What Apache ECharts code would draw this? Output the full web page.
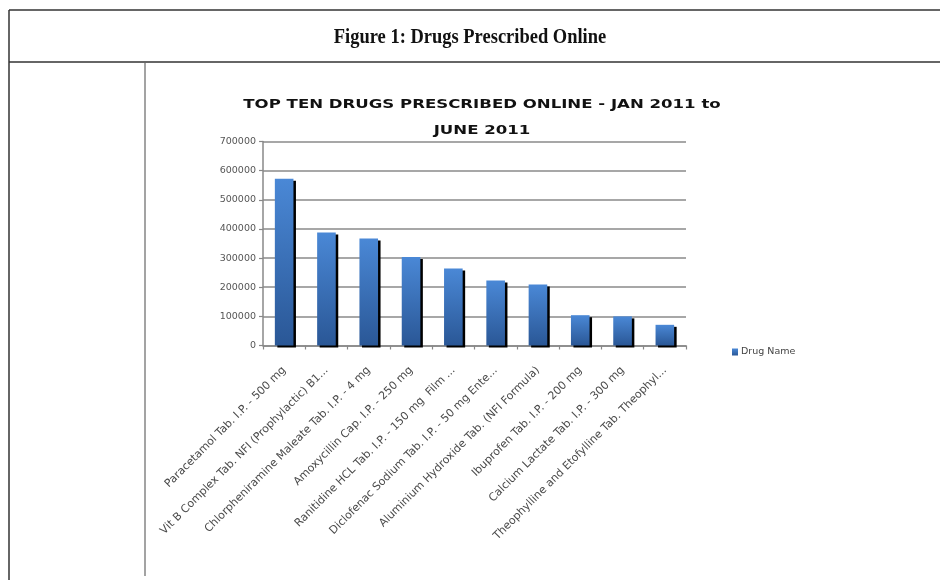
<!DOCTYPE html>
<html>
<head>
<meta charset="utf-8">
<script src="https://cdn.jsdelivr.net/npm/echarts@6/dist/echarts.min.js"></script>
<style>
html,body{margin:0;padding:0;background:#fff;}
#chart{width:940px;height:580px;}
</style>
</head>
<body>
<div id="chart"></div>
<script>
const categories = [
  "Paracetamol Tab. I.P. - 500 mg",
  "Vit B Complex Tab. NFI (Prophylactic) B1...",
  "Chlorpheniramine Maleate Tab. I.P. - 4 mg",
  "Amoxycillin Cap. I.P. - 250 mg",
  "Ranitidine HCL Tab. I.P. - 150 mg  Film ...",
  "Diclofenac Sodium Tab. I.P. - 50 mg Ente...",
  "Aluminium Hydroxide Tab. (NFI Formula)",
  "Ibuprofen Tab. I.P. - 200 mg",
  "Calcium Lactate Tab. I.P. - 300 mg",
  "Theophylline and Etofylline Tab. Theophyl..."
];
const drugCounts = [572000, 388000, 367000, 304000, 264000, 223000, 209000, 104000, 100000, 71000];
const yTicks = [0, 100000, 200000, 300000, 400000, 500000, 600000, 700000];
const seriesName = "Drug Name";
const figureTitle = "Figure 1: Drugs Prescribed Online";
const chartTitle = "TOP TEN DRUGS PRESCRIBED ONLINE - JAN 2011 to\nJUNE 2011";

const chart = echarts.init(document.getElementById('chart'), null, {renderer: 'canvas'});
const option = {
  animation: false,
  backgroundColor: '#fff',
  graphic: [
    {type: 'line', shape: {x1: 9, y1: 10, x2: 940, y2: 10}, style: {stroke: '#333', lineWidth: 1.5}},
    {type: 'line', shape: {x1: 9, y1: 62, x2: 940, y2: 62}, style: {stroke: '#333', lineWidth: 1.5}},
    {type: 'line', shape: {x1: 9, y1: 10, x2: 9, y2: 580}, style: {stroke: '#333', lineWidth: 1.5}},
    {type: 'line', shape: {x1: 145, y1: 62, x2: 145, y2: 576}, style: {stroke: '#666', lineWidth: 1.2}},
    {type: 'text', x: 470, y: 38, scaleX: 0.88,
      style: {text: figureTitle, fill: '#111', align: 'center', verticalAlign: 'middle',
        font: 'bold 21px "Liberation Serif", serif'}},
    {type: 'text', x: 482, y: 103, scaleX: 1.38,
      style: {text: chartTitle, fill: '#111', align: 'center', verticalAlign: 'top',
        font: 'bold 12px "DejaVu Sans", sans-serif', lineHeight: 26, y: -11}}
  ],
  legend: {
    data: [seriesName],
    left: 727, top: 342,
    itemWidth: 6, itemHeight: 7, itemGap: 4,
    icon: 'rect',
    textStyle: {fontFamily: '"DejaVu Sans", sans-serif', fontSize: 9.5, color: '#444', padding: [0,0,0,-2]}
  },
  grid: {left: 263, right: 254, top: 141.5, bottom: 234.5, containLabel: false},
  xAxis: {
    type: 'category',
    data: categories,
    axisLine: {lineStyle: {color: '#888', width: 1.5}},
    axisTick: {show: true, length: 4, lineStyle: {color: '#888', width: 1.2}},
    axisLabel: {rotate: 45, interval: 0, fontSize: 11, color: '#4a4a4a', fontFamily: '"DejaVu Sans", sans-serif', margin: 23}
  },
  yAxis: {
    type: 'value',
    min: 0, max: 700000, interval: 100000,
    axisLine: {show: true, lineStyle: {color: '#888', width: 1.5}},
    axisTick: {show: true, length: 4, lineStyle: {color: '#888', width: 1.2}},
    axisLabel: {fontSize: 9.5, color: '#555', fontFamily: '"DejaVu Sans", sans-serif', margin: 7,
      formatter: v => yTicks.includes(v) ? String(v) : ''},
    splitLine: {lineStyle: {color: '#8a8a8a', width: 1.5}}
  },
  series: [{
    name: seriesName,
    type: 'bar',
    data: drugCounts,
    barWidth: '44%',
    itemStyle: {
      color: new echarts.graphic.LinearGradient(0, 0, 0, 1, [
        {offset: 0, color: '#4a88d6'},
        {offset: 1, color: '#2a5796'}
      ]),
      shadowColor: '#000', shadowOffsetX: 2.5, shadowOffsetY: 2, shadowBlur: 0
    }
  }]
};
chart.setOption(option);
</script>
</body>
</html>
